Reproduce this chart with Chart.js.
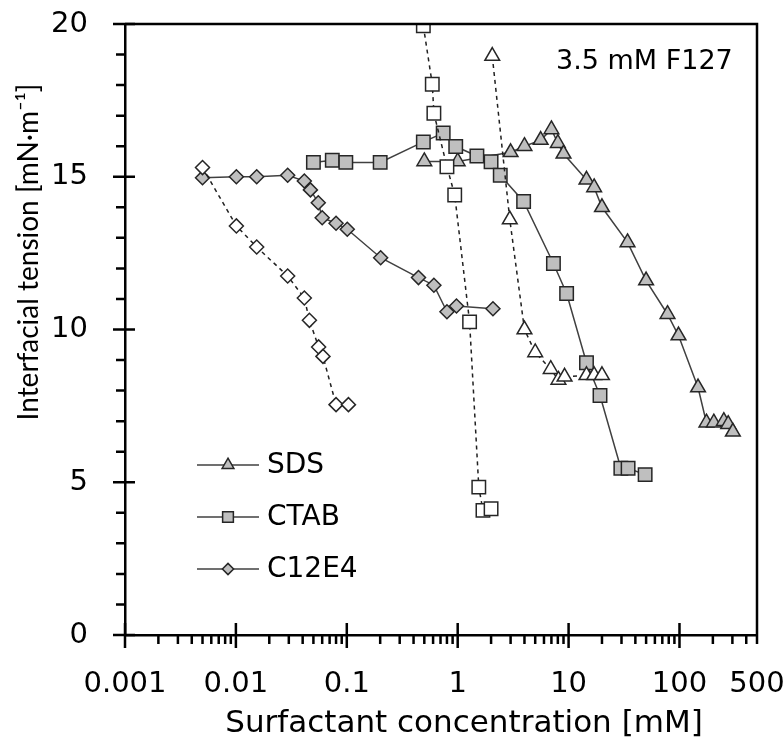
<!DOCTYPE html>
<html>
<head>
<meta charset="utf-8">
<script src="https://cdn.jsdelivr.net/npm/chart.js@4.4.1/dist/chart.umd.min.js"></script>
<style>
  html, body { margin: 0; padding: 0; background: #fff; }
</style>
</head>
<body>
<canvas id="ift" width="784" height="744"></canvas>
<script>
// tick labels
const xTickLabels = [0.001, 0.01, 0.1, 1, 10, 100, 500];
const yTickLabels = [0, 5, 10, 15, 20];

// SDS (filled = solid line, open = dashed)
const sdsX = [0.5, 1.0, 3.0, 4.0, 5.6, 7.0, 8.0, 9.0, 14.5, 17, 20, 34, 50, 78, 98, 147, 175, 204, 251, 275, 303];
const sdsY = [15.5, 15.5, 15.8, 16.0, 16.2, 16.55, 16.1, 15.75, 14.9, 14.65, 14.0, 12.85, 11.6, 10.5, 9.8, 8.1, 6.95, 6.95, 7.0, 6.9, 6.65];
const sdsOpenX = [2.05, 2.95, 4.0, 5.0, 6.9, 8.1, 9.2, 14.5, 17, 20];
const sdsOpenY = [18.95, 13.6, 10.0, 9.25, 8.7, 8.35, 8.45, 8.5, 8.5, 8.5];

// CTAB
const ctabX = [0.05, 0.074, 0.098, 0.2, 0.49, 0.74, 0.96, 1.49, 2.0, 2.42, 3.93, 7.3, 9.6, 14.5, 19.2, 29.6, 34.4, 49];
const ctabY = [15.47, 15.54, 15.47, 15.47, 16.14, 16.43, 15.99, 15.68, 15.49, 15.05, 14.19, 12.16, 11.18, 8.91, 7.84, 5.46, 5.46, 5.25];
const ctabOpenX = [0.49, 0.59, 0.61, 0.8, 0.94, 1.28, 1.55, 1.69, 2.0];
const ctabOpenY = [19.94, 18.03, 17.08, 15.33, 14.4, 10.25, 4.84, 4.08, 4.13];

// C12E4
const c12X = [0.005, 0.0101, 0.0154, 0.0293, 0.0414, 0.047, 0.0553, 0.06, 0.08, 0.101, 0.202, 0.443, 0.61, 0.8, 0.975, 2.08];
const c12Y = [14.97, 15.0, 15.0, 15.05, 14.86, 14.57, 14.15, 13.66, 13.48, 13.28, 12.35, 11.7, 11.45, 10.58, 10.77, 10.68];
const c12OpenX = [0.005, 0.0101, 0.0154, 0.0293, 0.0414, 0.046, 0.0557, 0.061, 0.08, 0.1035];
const c12OpenY = [15.3, 13.39, 12.7, 11.75, 11.03, 10.3, 9.43, 9.12, 7.54, 7.54];

const SANS = '"DejaVu Sans", sans-serif';
const FILL = '#bfbfbf';
const EDGE = '#262626';

function pts(xs, ys) {
    return xs.map((x, i) => ({ x: x, y: ys[i] }));
}

function filledSet(label, xs, ys, style, r) {
    return {
        label: label,
        data: pts(xs, ys),
        showLine: true,
        borderColor: '#404040',
        borderWidth: 1.5,
        pointStyle: style,
        pointRadius: r,
        pointBackgroundColor: FILL,
        pointBorderColor: EDGE,
        pointBorderWidth: 1.5,
        inLegend: true
    };
}

function openSet(label, xs, ys, style, r) {
    return {
        label: label,
        data: pts(xs, ys),
        showLine: true,
        borderColor: '#202020',
        borderWidth: 1.5,
        borderDash: [4, 4],
        pointStyle: style,
        pointRadius: r,
        pointBackgroundColor: '#ffffff',
        pointBorderColor: EDGE,
        pointBorderWidth: 1.5,
        inLegend: false
    };
}

const datasets = [
    openSet('C12E4 open', c12OpenX, c12OpenY, 'rectRot', 7),
    openSet('CTAB open', ctabOpenX, ctabOpenY, 'rect', 9.5),
    openSet('SDS open', sdsOpenX, sdsOpenY, 'triangle', 8.5),
    filledSet('C12E4', c12X, c12Y, 'rectRot', 7),
    filledSet('CTAB', ctabX, ctabY, 'rect', 9.5),
    filledSet('SDS', sdsX, sdsY, 'triangle', 8.5)
];

// no automatic label overhang padding: the plot box is fixed
function noPad(scale) {
    scale.paddingLeft = 0;
    scale.paddingRight = 0;
    scale.paddingTop = 0;
    scale.paddingBottom = 0;
}

// axis frame, crossing ticks, titles, legend and note
const decorPlugin = {
    id: 'decor',
    afterDraw(chart) {
        const ctx = chart.ctx;
        const a = chart.chartArea;
        const xs = chart.scales.x;
        const ys = chart.scales.y;
        ctx.save();
        ctx.strokeStyle = '#000';
        ctx.lineWidth = 2.5;
        ctx.beginPath();
        ctx.moveTo(a.left, a.top);
        ctx.lineTo(a.right, a.top);
        ctx.lineTo(a.right, a.bottom);
        ctx.stroke();

        // x ticks
        ctx.beginPath();
        for (let d = -3; d <= 2; d++) {
            for (let k = 1; k <= 9; k++) {
                const v = k * Math.pow(10, d);
                if (v > 500) break;
                const px = xs.getPixelForValue(v);
                if (k === 1) {
                    ctx.moveTo(px, a.bottom - 12);
                    ctx.lineTo(px, a.bottom + 13);
                } else {
                    ctx.moveTo(px, a.bottom);
                    ctx.lineTo(px, a.bottom + 9);
                }
            }
        }
        // y ticks
        for (let v = 0; v <= 20; v++) {
            const py = ys.getPixelForValue(v);
            if (v % 5 === 0) {
                ctx.moveTo(a.left - 12, py);
                ctx.lineTo(a.left + 10, py);
            } else {
                ctx.moveTo(a.left - 9, py);
                ctx.lineTo(a.left, py);
            }
        }
        ctx.stroke();

        ctx.fillStyle = '#000';
        ctx.textBaseline = 'middle';

        // axis titles
        ctx.textAlign = 'center';
        ctx.font = '31px ' + SANS;
        ctx.fillText('Surfactant concentration [mM]', 464, 724);
        ctx.save();
        ctx.translate(29, 252);
        ctx.rotate(-Math.PI / 2);
        ctx.font = '28px Lato, ' + SANS;
        ctx.fillText('Interfacial tension [mN\u00b7m\u207b\u00b9]', 0, 0);
        ctx.restore();

        // note
        ctx.textAlign = 'left';
        ctx.font = '27px ' + SANS;
        ctx.fillText('3.5 mM F127', 556, 62);

        // legend
        ctx.font = '28px ' + SANS;
        const rows = chart.data.datasets.filter(ds => ds.inLegend).reverse();
        rows.forEach((ds, i) => {
            const y = 465 + i * 52;
            ctx.strokeStyle = ds.borderColor;
            ctx.lineWidth = ds.borderWidth;
            ctx.beginPath();
            ctx.moveTo(197, y);
            ctx.lineTo(259, y);
            ctx.stroke();
            ctx.fillStyle = ds.pointBackgroundColor;
            ctx.strokeStyle = ds.pointBorderColor;
            ctx.lineWidth = ds.pointBorderWidth;
            Chart.helpers.drawPoint(ctx, {
                pointStyle: ds.pointStyle,
                radius: ds.pointRadius * 0.8,
                rotation: 0,
                borderWidth: ds.pointBorderWidth
            }, 228, y);
            ctx.fillStyle = '#000';
            ctx.fillText(ds.label, 267, y + 1);
        });
        ctx.restore();
    }
};

new Chart(document.getElementById('ift').getContext('2d'), {
    type: 'scatter',
    data: { datasets: datasets },
    options: {
        responsive: false,
        animation: false,
        devicePixelRatio: 1,
        layout: { autoPadding: false, padding: { top: 24, right: 27, left: 0, bottom: 0 } },
        plugins: {
            legend: { display: false },
            tooltip: { enabled: false }
        },
        scales: {
            x: {
                type: 'logarithmic',
                min: 0.001,
                max: 500,
                grid: { display: false, drawTicks: false },
                border: { display: true, color: '#000', width: 2.5 },
                afterBuildTicks: scale => {
                    scale.ticks = xTickLabels.map(v => ({ value: v }));
                },
                afterFit: scale => { scale.height = 109; noPad(scale); },
                ticks: {
                    autoSkip: false,
                    maxRotation: 0,
                    minRotation: 0,
                    padding: 32,
                    color: '#000',
                    font: { family: SANS, size: 29 },
                    callback: v => String(v)
                }
            },
            y: {
                min: 0,
                max: 20,
                grid: { display: false, drawTicks: false },
                border: { display: true, color: '#000', width: 2.5 },
                afterBuildTicks: scale => {
                    scale.ticks = yTickLabels.map(v => ({ value: v }));
                },
                afterFit: scale => { scale.width = 125; noPad(scale); },
                ticks: {
                    padding: 37,
                    color: '#000',
                    font: { family: SANS, size: 29 }
                }
            }
        }
    },
    plugins: [decorPlugin]
});
</script>
</body>
</html>
